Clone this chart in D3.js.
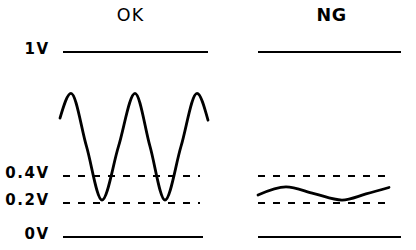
<!DOCTYPE html>
<html><head><meta charset="utf-8">
<script src="https://cdn.jsdelivr.net/npm/d3@7"></script>
<style>html,body{margin:0;padding:0;background:#fff;}svg{display:block;}</style>
</head><body>
<svg id="c" width="416" height="250"></svg>
<script>
// Data
const panels = ["OK", "NG"];
const levelValues = [1, 0.4, 0.2, 0];
const levelLabels = ["1V", "0.4V", "0.2V", "0V"];
const levelDashed = [false, true, true, false];
// waveform samples: time (arbitrary units) and voltage
const okTime = [-3, 8, 23.5, 39, 55.5, 72, 87, 102, 118, 134, 145];
const okVolts = [0.68, 0.80, 0.543, 0.222, 0.543, 0.80, 0.543, 0.222, 0.543, 0.80, 0.67];
const ngTime = [0, 28, 56, 84, 108, 131];
const ngVolts = [0.259, 0.319, 0.270, 0.222, 0.267, 0.315];

const svg = d3.select("#c");
const y = d3.scaleLinear().domain([0, 0.2, 0.4, 1]).range([237, 203, 176, 52]);
const xOK = d3.scaleLinear().domain([0, 145]).range([63, 208]);
const xNG = d3.scaleLinear().domain([0, 144]).range([258, 402]);

const setup = [
  {name: panels[0], x: xOK, t: okTime, v: okVolts, cx: 130.5, bold: false, ls: 1,
   ext: {solidTop: [0, 145], solidBot: [0, 140], dashed: [0, 137]}},
  {name: panels[1], x: xNG, t: ngTime, v: ngVolts, cx: 331.5, bold: true, ls: 0.5,
   ext: {solidTop: [0, 143], solidBot: [0, 143], dashed: [0, 135]}}
];

setup.forEach(p => {
  svg.append("text").attr("x", p.cx).attr("y", 20.5)
    .attr("text-anchor", "middle")
    .attr("font-family", "DejaVu Sans, sans-serif")
    .attr("font-size", 17.5).attr("font-weight", p.bold ? "bold" : "normal")
    .attr("letter-spacing", p.ls)
    .text(p.name);

  levelValues.forEach((lv, i) => {
    const e = levelDashed[i] ? p.ext.dashed : (lv === 1 ? p.ext.solidTop : p.ext.solidBot);
    svg.append("line")
      .attr("x1", p.x(e[0])).attr("x2", p.x(e[1]))
      .attr("y1", y(lv)).attr("y2", y(lv))
      .attr("stroke", "#000").attr("stroke-width", 2)
      .attr("stroke-dasharray", levelDashed[i] ? "7,8" : null);
  });

  const pts = p.t.map((t, i) => [p.x(t), y(p.v[i])]);
  svg.append("path")
    .attr("d", d3.line().curve(d3.curveMonotoneX)(pts))
    .attr("fill", "none").attr("stroke", "#000").attr("stroke-width", 2.8)
    .attr("stroke-linecap", "round");
});

levelValues.forEach((lv, i) => {
  svg.append("text").attr("x", 49.5).attr("y", y(lv) + 1.5)
    .attr("text-anchor", "end")
    .attr("font-family", "DejaVu Sans, sans-serif")
    .attr("font-size", 15).attr("font-weight", "bold")
    .attr("letter-spacing", 1.5)
    .text(levelLabels[i]);
});
</script>
</body></html>
